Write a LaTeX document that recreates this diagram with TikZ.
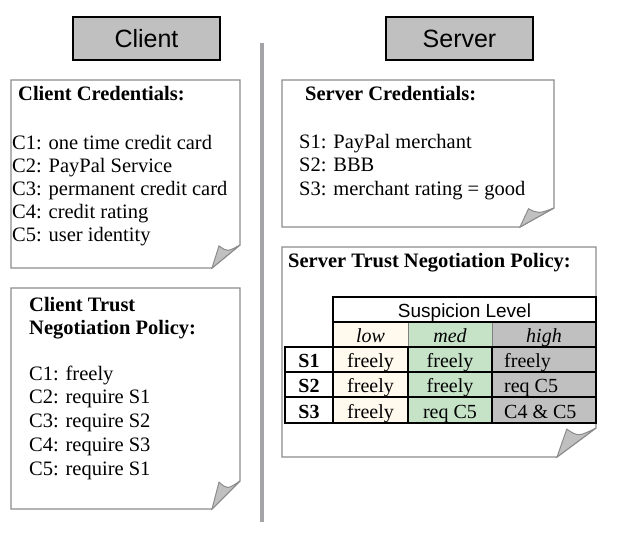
\documentclass[tikz,border=0pt]{standalone}
\usepackage{fontspec}
\setmainfont{Liberation Serif}
\setsansfont{Liberation Sans}
\usetikzlibrary{positioning}
\definecolor{clow}{HTML}{FFF9EE}
\definecolor{cmed}{HTML}{C6E3C8}
\definecolor{chigh}{HTML}{C0C0C0}
\definecolor{cnote}{HTML}{8C8C8C}
\definecolor{cbar}{HTML}{A4A4A8}
\tikzset{
  head/.style={draw=black, line width=1.8pt, fill=chigh, minimum width=147pt,
    minimum height=43pt, inner sep=0pt, font=\sffamily\fontsize{25}{30}\selectfont},
  notebox/.style={draw=cnote, line width=1.2pt, fill=white},
  curl/.style={draw=cnote, line width=1pt, fill=chigh},
  ttl/.style={anchor=base west, inner sep=0pt, font=\bfseries\fontsize{20.5}{24}\selectfont},
  txt/.style={anchor=base west, inner sep=0pt, font=\fontsize{20.5}{24}\selectfont},
  cell/.style={anchor=base, inner sep=0pt, font=\fontsize{20}{22}\selectfont},
  grid/.style={draw=black, line width=1.8pt},
  divider/.style={draw=cbar, line width=4pt},
}
% note with a folded corner: x1 y1 x2 y2 fold-width fold-height
\newcommand{\foldnote}[6]{%
  \pgfmathsetmacro\fx{#3-#5}\pgfmathsetmacro\fy{#4-#6}%
  \pgfmathsetmacro\tx{#3-0.75*#5}\pgfmathsetmacro\ty{#4-0.96*#6}%
  \draw[notebox] (#1,#2) -- (#3,#2) -- (#3,\fy) -- (\fx,#4) -- (#1,#4) -- cycle;
  \draw[curl] (\fx,#4) -- (\tx,\ty) .. controls ({#3-0.45*#5},{#4-0.7*#6}) .. (#3,\fy) -- cycle;
}

\begin{document}
\begin{tikzpicture}[x=1pt, y=-1pt]
  \useasboundingbox (0,0) rectangle (620,535);

  \node[head] (client) at (146.5,38.5) {Client};
  \node[head] (server) at (459.5,38.5) {Server};
  \draw[divider] (262,43) -- (262,522);

  % client side
  \foldnote{11}{80}{240}{268}{28}{23}
  \node[ttl] (cctitle) at (18,100.5) {Client Credentials:};
  \foreach \t [count=\i from 0] in {C1: one time credit card, C2: PayPal Service,
      C3: permanent credit card, C4: credit rating, C5: user identity}
    \node[txt] (cc\i) at (12,{149+23.2*\i}) {\t};

  \foldnote{11}{288}{240}{509}{28}{28}
  \node[ttl] (cptitle) at (29,311) {Client Trust};
  \node[ttl] (cptitleb) at (29,334) {Negotiation Policy:};
  \foreach \t [count=\i from 0] in {C1: freely, C2: require S1, C3: require S2,
      C4: require S3, C5: require S1}
    \node[txt] (cp\i) at (29,{380+23.75*\i}) {\t};

  % server side
  \foldnote{282}{80}{554}{227}{34}{19}
  \node[ttl] (sctitle) at (305,100) {Server Credentials:};
  \foreach \t [count=\i from 0] in {S1: PayPal merchant, S2: BBB,
      S3: merchant rating = good}
    \node[txt] (sc\i) at (299,{148+23.5*\i}) {\t};

  \foldnote{282}{247}{596}{457}{39}{29}
  \node[ttl] (sptitle) at (288,267) {Server Trust Negotiation Policy:};

  % suspicion table
  \fill[white] (333,297) rectangle (596,322);
  \fill[clow] (333,322) rectangle (408,423);
  \fill[cmed] (408,322) rectangle (492,423);
  \fill[chigh] (492,322) rectangle (596,423);
  \fill[white] (285,347) rectangle (333,423);
  \draw[gray, line width=1pt] (408,322) -- (408,347) (492,322) -- (492,347);
  \draw[grid] (333,297) rectangle (596,322);
  \draw[grid] (333,322) -- (333,347) (596,322) -- (596,347);
  \draw[grid] (285,347) rectangle (596,423);
  \draw[grid] (285,372) -- (596,372) (285,397) -- (596,397);
  \draw[grid] (333,347) -- (333,423) (408,347) -- (408,423) (492,347) -- (492,423);

  \node[cell, font=\sffamily\fontsize{19}{22}\selectfont] (level) at (464.5,317) {Suspicion Level};
  \node[cell, font=\itshape\fontsize{20}{22}\selectfont] (low) at (370.5,342) {low};
  \node[cell, font=\itshape\fontsize{20}{22}\selectfont] (med) at (450,342) {med};
  \node[cell, font=\itshape\fontsize{20}{22}\selectfont] (high) at (544,342) {high};

  \node[cell, font=\bfseries\fontsize{20}{22}\selectfont] (s1) at (309,367) {S1};
  \node[cell, font=\bfseries\fontsize{20}{22}\selectfont] (s2) at (309,392) {S2};
  \node[cell, font=\bfseries\fontsize{20}{22}\selectfont] (s3) at (309,418) {S3};

  \node[cell] (s1low) at (370.5,367) {freely};
  \node[cell] (s2low) at (370.5,392) {freely};
  \node[cell] (s3low) at (370.5,418) {freely};
  \node[cell] (s1med) at (450,367) {freely};
  \node[cell] (s2med) at (450,392) {freely};
  \node[cell] (s3med) at (450,418) {req C5};
  \node[cell, anchor=base west] (s1high) at (504,367) {freely};
  \node[cell, anchor=base west] (s2high) at (504,392) {req C5};
  \node[cell, anchor=base west] (s3high) at (504,418) {C4 \& C5};
\end{tikzpicture}
\end{document}
